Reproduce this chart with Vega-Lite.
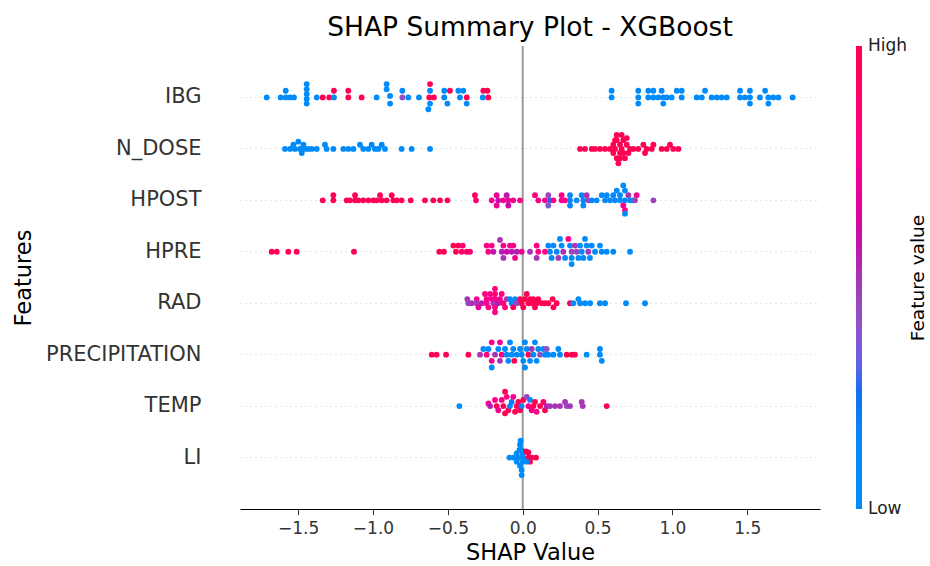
{
  "$schema": "https://vega.github.io/schema/vega-lite/v6.json",
  "autosize": {"type": "none"},
  "padding": {"left": 240, "top": 46, "right": 110, "bottom": 57},
  "width": 580,
  "height": 463,
  "background": "white",
  "config": {"view": {"stroke": null}, "font": "DejaVu Sans"},
  "title": {"text": "SHAP Summary Plot - XGBoost", "fontSize": 26.5, "fontWeight": "normal", "color": "#000", "frame": "group", "anchor": "middle", "offset": 4, "font": "DejaVu Sans"},
  "data": {"values": [
    {"f":"IBG","v":-1.710,"j":0,"c":0},{"f":"IBG","v":-1.617,"j":0,"c":0},{"f":"IBG","v":-1.583,"j":0.13,"c":0},{"f":"IBG","v":-1.583,"j":0,"c":0},{"f":"IBG","v":-1.554,"j":0,"c":0},{"f":"IBG","v":-1.528,"j":0,"c":0},
    {"f":"IBG","v":-1.443,"j":0.26,"c":0},{"f":"IBG","v":-1.443,"j":0.16,"c":0},{"f":"IBG","v":-1.443,"j":0.065,"c":0},{"f":"IBG","v":-1.443,"j":-0.03,"c":0},{"f":"IBG","v":-1.443,"j":-0.12,"c":0},
    {"f":"IBG","v":-1.376,"j":0,"c":0},{"f":"IBG","v":-1.336,"j":0,"c":1},{"f":"IBG","v":-1.292,"j":0,"c":1},{"f":"IBG","v":-1.261,"j":0.13,"c":1},{"f":"IBG","v":-1.261,"j":0,"c":0},
    {"f":"IBG","v":-1.165,"j":0.13,"c":1},{"f":"IBG","v":-1.165,"j":0,"c":1},{"f":"IBG","v":-1.076,"j":0,"c":1},{"f":"IBG","v":-0.976,"j":0,"c":0},
    {"f":"IBG","v":-0.909,"j":0.26,"c":0},{"f":"IBG","v":-0.909,"j":0.16,"c":0},{"f":"IBG","v":-0.886,"j":0.03,"c":0},{"f":"IBG","v":-0.886,"j":-0.12,"c":0},
    {"f":"IBG","v":-0.804,"j":0.13,"c":0},{"f":"IBG","v":-0.804,"j":0,"c":0.4},{"f":"IBG","v":-0.764,"j":0,"c":0},{"f":"IBG","v":-0.693,"j":0,"c":0},
    {"f":"IBG","v":-0.619,"j":0.26,"c":1},{"f":"IBG","v":-0.619,"j":0.13,"c":0},{"f":"IBG","v":-0.624,"j":0,"c":1},{"f":"IBG","v":-0.593,"j":0,"c":1},{"f":"IBG","v":-0.619,"j":-0.12,"c":0},{"f":"IBG","v":-0.630,"j":-0.23,"c":0},
    {"f":"IBG","v":-0.524,"j":0.13,"c":0},{"f":"IBG","v":-0.524,"j":0,"c":0},{"f":"IBG","v":-0.503,"j":-0.12,"c":0},{"f":"IBG","v":-0.486,"j":0.13,"c":1},
    {"f":"IBG","v":-0.430,"j":0.13,"c":0},{"f":"IBG","v":-0.397,"j":0.13,"c":0},{"f":"IBG","v":-0.419,"j":0,"c":0},{"f":"IBG","v":-0.374,"j":0,"c":1},{"f":"IBG","v":-0.374,"j":-0.12,"c":0},
    {"f":"IBG","v":-0.263,"j":0.13,"c":1},{"f":"IBG","v":-0.236,"j":0.13,"c":1},{"f":"IBG","v":-0.267,"j":0,"c":0},{"f":"IBG","v":-0.230,"j":0,"c":1},
    {"f":"IBG","v":0.594,"j":0.13,"c":0},{"f":"IBG","v":0.594,"j":0,"c":0},{"f":"IBG","v":0.772,"j":0.13,"c":0},{"f":"IBG","v":0.772,"j":0,"c":0},{"f":"IBG","v":0.772,"j":-0.12,"c":0},
    {"f":"IBG","v":0.839,"j":0.13,"c":0},{"f":"IBG","v":0.839,"j":0,"c":0},{"f":"IBG","v":0.873,"j":0.13,"c":0},{"f":"IBG","v":0.873,"j":0,"c":0},{"f":"IBG","v":0.906,"j":0,"c":0},
    {"f":"IBG","v":0.928,"j":0.13,"c":0},{"f":"IBG","v":0.939,"j":0,"c":0},{"f":"IBG","v":0.939,"j":-0.12,"c":0},{"f":"IBG","v":0.962,"j":0,"c":0},{"f":"IBG","v":0.995,"j":0,"c":0},
    {"f":"IBG","v":1.029,"j":0.13,"c":0},{"f":"IBG","v":1.062,"j":0.13,"c":0},{"f":"IBG","v":1.062,"j":0,"c":0},{"f":"IBG","v":1.162,"j":0,"c":0},{"f":"IBG","v":1.196,"j":0,"c":0},
    {"f":"IBG","v":1.218,"j":0.13,"c":0},{"f":"IBG","v":1.262,"j":0,"c":0},{"f":"IBG","v":1.296,"j":0,"c":0},{"f":"IBG","v":1.329,"j":0,"c":0},{"f":"IBG","v":1.363,"j":0,"c":0},
    {"f":"IBG","v":1.452,"j":0.13,"c":0},{"f":"IBG","v":1.452,"j":0,"c":0},{"f":"IBG","v":1.485,"j":0,"c":0},{"f":"IBG","v":1.518,"j":0.13,"c":0},{"f":"IBG","v":1.518,"j":0,"c":0},
    {"f":"IBG","v":1.518,"j":-0.12,"c":0},{"f":"IBG","v":1.585,"j":0,"c":0},{"f":"IBG","v":1.619,"j":0.13,"c":0},{"f":"IBG","v":1.641,"j":0,"c":0},{"f":"IBG","v":1.641,"j":-0.12,"c":0},
    {"f":"IBG","v":1.674,"j":0,"c":0},{"f":"IBG","v":1.708,"j":0,"c":0},{"f":"IBG","v":1.803,"j":0,"c":0},

    {"f":"N_DOSE","v":-1.588,"j":0,"c":0},{"f":"N_DOSE","v":-1.554,"j":0,"c":0},{"f":"N_DOSE","v":-1.532,"j":0.08,"c":0},{"f":"N_DOSE","v":-1.521,"j":0,"c":0},{"f":"N_DOSE","v":-1.499,"j":0.14,"c":0},
    {"f":"N_DOSE","v":-1.488,"j":0,"c":0},{"f":"N_DOSE","v":-1.476,"j":-0.08,"c":0},{"f":"N_DOSE","v":-1.465,"j":0.08,"c":0},{"f":"N_DOSE","v":-1.454,"j":0,"c":0},{"f":"N_DOSE","v":-1.432,"j":0,"c":0},
    {"f":"N_DOSE","v":-1.410,"j":0,"c":0},{"f":"N_DOSE","v":-1.376,"j":0,"c":0},{"f":"N_DOSE","v":-1.321,"j":0.08,"c":0},{"f":"N_DOSE","v":-1.310,"j":0,"c":0},{"f":"N_DOSE","v":-1.265,"j":0,"c":0},
    {"f":"N_DOSE","v":-1.198,"j":0,"c":0},{"f":"N_DOSE","v":-1.165,"j":0,"c":0},{"f":"N_DOSE","v":-1.131,"j":0,"c":0},{"f":"N_DOSE","v":-1.087,"j":0.08,"c":0},{"f":"N_DOSE","v":-1.065,"j":0,"c":0},
    {"f":"N_DOSE","v":-1.031,"j":0,"c":0},{"f":"N_DOSE","v":-1.009,"j":0.08,"c":0},{"f":"N_DOSE","v":-0.987,"j":0,"c":0},{"f":"N_DOSE","v":-0.964,"j":0,"c":0},{"f":"N_DOSE","v":-0.942,"j":0.08,"c":0},
    {"f":"N_DOSE","v":-0.920,"j":0,"c":0},{"f":"N_DOSE","v":-0.809,"j":0,"c":0},{"f":"N_DOSE","v":-0.742,"j":0,"c":0},{"f":"N_DOSE","v":-0.619,"j":0,"c":0},
    {"f":"N_DOSE","v":0.383,"j":0,"c":1},{"f":"N_DOSE","v":0.416,"j":0,"c":1},{"f":"N_DOSE","v":0.461,"j":0,"c":1},{"f":"N_DOSE","v":0.483,"j":0,"c":1},{"f":"N_DOSE","v":0.516,"j":0,"c":1},
    {"f":"N_DOSE","v":0.550,"j":0,"c":1},{"f":"N_DOSE","v":0.583,"j":0,"c":1},{"f":"N_DOSE","v":0.605,"j":0.08,"c":1},{"f":"N_DOSE","v":0.605,"j":-0.08,"c":1},{"f":"N_DOSE","v":0.617,"j":0,"c":1},
    {"f":"N_DOSE","v":0.617,"j":0.17,"c":1},{"f":"N_DOSE","v":0.628,"j":0.27,"c":1},{"f":"N_DOSE","v":0.628,"j":0.17,"c":1},{"f":"N_DOSE","v":0.628,"j":-0.18,"c":1},{"f":"N_DOSE","v":0.639,"j":-0.28,"c":1},
    {"f":"N_DOSE","v":0.650,"j":0.08,"c":1},{"f":"N_DOSE","v":0.650,"j":-0.08,"c":1},{"f":"N_DOSE","v":0.650,"j":-0.18,"c":1},{"f":"N_DOSE","v":0.661,"j":0,"c":1},{"f":"N_DOSE","v":0.661,"j":0.27,"c":1},
    {"f":"N_DOSE","v":0.672,"j":0.17,"c":1},{"f":"N_DOSE","v":0.672,"j":-0.08,"c":1},{"f":"N_DOSE","v":0.683,"j":-0.18,"c":1},{"f":"N_DOSE","v":0.695,"j":0.21,"c":1},{"f":"N_DOSE","v":0.695,"j":0.08,"c":1},
    {"f":"N_DOSE","v":0.706,"j":-0.08,"c":1},{"f":"N_DOSE","v":0.717,"j":0,"c":1},{"f":"N_DOSE","v":0.739,"j":0,"c":1},{"f":"N_DOSE","v":0.772,"j":0,"c":1},{"f":"N_DOSE","v":0.806,"j":0.08,"c":1},
    {"f":"N_DOSE","v":0.817,"j":-0.08,"c":1},{"f":"N_DOSE","v":0.828,"j":0,"c":1},{"f":"N_DOSE","v":0.862,"j":0,"c":1},{"f":"N_DOSE","v":0.873,"j":0.08,"c":1},{"f":"N_DOSE","v":0.928,"j":0,"c":1},
    {"f":"N_DOSE","v":0.962,"j":0,"c":1},{"f":"N_DOSE","v":0.984,"j":0.08,"c":1},{"f":"N_DOSE","v":1.006,"j":0,"c":1},{"f":"N_DOSE","v":1.040,"j":0,"c":1},

    {"f":"HPOST","v":-1.336,"j":0,"c":1},{"f":"HPOST","v":-1.265,"j":0.1,"c":1},{"f":"HPOST","v":-1.265,"j":0,"c":1},{"f":"HPOST","v":-1.176,"j":0,"c":1},{"f":"HPOST","v":-1.154,"j":0,"c":1},
    {"f":"HPOST","v":-1.120,"j":0.1,"c":1},{"f":"HPOST","v":-1.120,"j":0,"c":1},{"f":"HPOST","v":-1.098,"j":0,"c":1},{"f":"HPOST","v":-1.065,"j":0,"c":1},{"f":"HPOST","v":-1.031,"j":0,"c":1},
    {"f":"HPOST","v":-0.998,"j":0,"c":1},{"f":"HPOST","v":-0.976,"j":0,"c":1},{"f":"HPOST","v":-0.953,"j":0.1,"c":1},{"f":"HPOST","v":-0.942,"j":0,"c":1},{"f":"HPOST","v":-0.909,"j":0,"c":1},
    {"f":"HPOST","v":-0.875,"j":0.1,"c":1},{"f":"HPOST","v":-0.864,"j":0,"c":1},{"f":"HPOST","v":-0.842,"j":0,"c":1},{"f":"HPOST","v":-0.809,"j":0,"c":1},{"f":"HPOST","v":-0.748,"j":0,"c":1},
    {"f":"HPOST","v":-0.653,"j":0,"c":1},{"f":"HPOST","v":-0.597,"j":0,"c":1},{"f":"HPOST","v":-0.552,"j":0,"c":1},{"f":"HPOST","v":-0.503,"j":0,"c":1},
    {"f":"HPOST","v":-0.319,"j":0.1,"c":0.9},{"f":"HPOST","v":-0.312,"j":0,"c":0.85},{"f":"HPOST","v":-0.207,"j":0,"c":0.75},{"f":"HPOST","v":-0.174,"j":0.1,"c":0.7},{"f":"HPOST","v":-0.163,"j":0,"c":0.6},
    {"f":"HPOST","v":-0.174,"j":-0.1,"c":0.7},{"f":"HPOST","v":-0.129,"j":0,"c":0.75},{"f":"HPOST","v":-0.107,"j":0.1,"c":0.55},{"f":"HPOST","v":-0.096,"j":0,"c":0.7},{"f":"HPOST","v":-0.096,"j":-0.1,"c":0.6},
    {"f":"HPOST","v":-0.063,"j":0,"c":0.75},{"f":"HPOST","v":-0.018,"j":0,"c":0.75},
    {"f":"HPOST","v":0.082,"j":0.1,"c":0.8},{"f":"HPOST","v":0.104,"j":0,"c":0.8},{"f":"HPOST","v":0.149,"j":0,"c":0.75},{"f":"HPOST","v":0.171,"j":0.1,"c":0.45},{"f":"HPOST","v":0.182,"j":0,"c":0.25},
    {"f":"HPOST","v":0.171,"j":-0.1,"c":0.35},{"f":"HPOST","v":0.205,"j":0,"c":0.75},{"f":"HPOST","v":0.260,"j":0.1,"c":0.8},{"f":"HPOST","v":0.260,"j":0,"c":0.75},{"f":"HPOST","v":0.283,"j":0,"c":0.8},
    {"f":"HPOST","v":0.316,"j":0.1,"c":0.15},{"f":"HPOST","v":0.316,"j":0,"c":0.1},{"f":"HPOST","v":0.316,"j":-0.1,"c":0.1},{"f":"HPOST","v":0.360,"j":0,"c":0.1},{"f":"HPOST","v":0.394,"j":0.1,"c":0.1},
    {"f":"HPOST","v":0.405,"j":0,"c":0.15},{"f":"HPOST","v":0.405,"j":-0.1,"c":0.1},{"f":"HPOST","v":0.427,"j":0.1,"c":0.5},{"f":"HPOST","v":0.438,"j":0,"c":0.45},{"f":"HPOST","v":0.461,"j":0,"c":0.1},
    {"f":"HPOST","v":0.494,"j":0,"c":0.05},{"f":"HPOST","v":0.528,"j":0.1,"c":0.1},{"f":"HPOST","v":0.550,"j":0,"c":0.1},{"f":"HPOST","v":0.561,"j":0.1,"c":0.05},{"f":"HPOST","v":0.583,"j":0,"c":0.1},
    {"f":"HPOST","v":0.605,"j":0.1,"c":0.05},{"f":"HPOST","v":0.617,"j":0,"c":0.05},{"f":"HPOST","v":0.628,"j":0.19,"c":0},{"f":"HPOST","v":0.650,"j":0.1,"c":0},{"f":"HPOST","v":0.650,"j":0,"c":0},
    {"f":"HPOST","v":0.672,"j":0.29,"c":0},{"f":"HPOST","v":0.683,"j":0.19,"c":0},{"f":"HPOST","v":0.683,"j":0,"c":0},{"f":"HPOST","v":0.672,"j":-0.1,"c":0.75},{"f":"HPOST","v":0.683,"j":-0.19,"c":0.8},
    {"f":"HPOST","v":0.683,"j":-0.26,"c":0},{"f":"HPOST","v":0.706,"j":0.1,"c":0.5},{"f":"HPOST","v":0.717,"j":0,"c":0},{"f":"HPOST","v":0.739,"j":0,"c":0},{"f":"HPOST","v":0.761,"j":0.1,"c":0.75},
    {"f":"HPOST","v":0.750,"j":0,"c":0.45},{"f":"HPOST","v":0.873,"j":0,"c":0.45},

    {"f":"HPRE","v":-1.677,"j":0,"c":1},{"f":"HPRE","v":-1.643,"j":0,"c":1},{"f":"HPRE","v":-1.566,"j":0,"c":1},{"f":"HPRE","v":-1.510,"j":0,"c":1},{"f":"HPRE","v":-1.127,"j":0,"c":1},
    {"f":"HPRE","v":-0.557,"j":0,"c":1},{"f":"HPRE","v":-0.526,"j":0,"c":1},{"f":"HPRE","v":-0.463,"j":0.12,"c":1},{"f":"HPRE","v":-0.430,"j":0.12,"c":1},{"f":"HPRE","v":-0.446,"j":0,"c":1},
    {"f":"HPRE","v":-0.401,"j":0.12,"c":0.85},{"f":"HPRE","v":-0.408,"j":0,"c":0.85},{"f":"HPRE","v":-0.374,"j":0,"c":0.9},{"f":"HPRE","v":-0.352,"j":0,"c":0.85},
    {"f":"HPRE","v":-0.241,"j":0.12,"c":0.8},{"f":"HPRE","v":-0.207,"j":0.12,"c":0.8},{"f":"HPRE","v":-0.230,"j":0,"c":0.8},{"f":"HPRE","v":-0.196,"j":0,"c":0.55},{"f":"HPRE","v":-0.152,"j":0.23,"c":0.5},
    {"f":"HPRE","v":-0.129,"j":0.12,"c":0.75},{"f":"HPRE","v":-0.140,"j":0,"c":0.55},{"f":"HPRE","v":-0.129,"j":-0.12,"c":0.5},{"f":"HPRE","v":-0.107,"j":0,"c":0.6},{"f":"HPRE","v":-0.085,"j":0.12,"c":0.75},
    {"f":"HPRE","v":-0.063,"j":0.12,"c":0.8},{"f":"HPRE","v":-0.074,"j":0,"c":0.55},{"f":"HPRE","v":-0.051,"j":-0.12,"c":0.75},{"f":"HPRE","v":-0.040,"j":0,"c":0.55},
    {"f":"HPRE","v":-0.007,"j":0,"c":0.75},{"f":"HPRE","v":0.049,"j":0,"c":0.5},{"f":"HPRE","v":0.093,"j":0.12,"c":0.8},{"f":"HPRE","v":0.104,"j":0,"c":0.8},{"f":"HPRE","v":0.093,"j":-0.12,"c":0.5},
    {"f":"HPRE","v":0.149,"j":0,"c":0.8},{"f":"HPRE","v":0.171,"j":0.12,"c":0.1},{"f":"HPRE","v":0.182,"j":0,"c":0.1},{"f":"HPRE","v":0.193,"j":-0.12,"c":0.1},{"f":"HPRE","v":0.205,"j":0.12,"c":0.1},
    {"f":"HPRE","v":0.227,"j":0,"c":0.1},{"f":"HPRE","v":0.238,"j":-0.12,"c":0.5},{"f":"HPRE","v":0.249,"j":0.25,"c":0},{"f":"HPRE","v":0.260,"j":0.12,"c":0},{"f":"HPRE","v":0.271,"j":0,"c":0.5},
    {"f":"HPRE","v":0.283,"j":-0.12,"c":0},{"f":"HPRE","v":0.305,"j":0.25,"c":0.8},{"f":"HPRE","v":0.316,"j":0.12,"c":0},{"f":"HPRE","v":0.327,"j":0,"c":0.45},{"f":"HPRE","v":0.327,"j":-0.12,"c":0},
    {"f":"HPRE","v":0.327,"j":-0.24,"c":0},{"f":"HPRE","v":0.349,"j":0.12,"c":0.5},{"f":"HPRE","v":0.360,"j":0,"c":0.45},{"f":"HPRE","v":0.372,"j":-0.12,"c":0},{"f":"HPRE","v":0.383,"j":0.12,"c":0},
    {"f":"HPRE","v":0.394,"j":0,"c":0},{"f":"HPRE","v":0.405,"j":-0.12,"c":0},{"f":"HPRE","v":0.416,"j":0.25,"c":0},{"f":"HPRE","v":0.427,"j":0.12,"c":0},{"f":"HPRE","v":0.438,"j":0,"c":0.5},
    {"f":"HPRE","v":0.449,"j":-0.12,"c":0},{"f":"HPRE","v":0.461,"j":0.12,"c":0},{"f":"HPRE","v":0.483,"j":0,"c":0},{"f":"HPRE","v":0.516,"j":0.12,"c":0},{"f":"HPRE","v":0.528,"j":0,"c":0},
    {"f":"HPRE","v":0.561,"j":0,"c":0},{"f":"HPRE","v":0.605,"j":0,"c":0},{"f":"HPRE","v":0.717,"j":0,"c":0},

    {"f":"RAD","v":-0.370,"j":0.08,"c":0.5},{"f":"RAD","v":-0.363,"j":0,"c":0.45},{"f":"RAD","v":-0.341,"j":0,"c":0.5},{"f":"RAD","v":-0.307,"j":0.08,"c":0.75},{"f":"RAD","v":-0.307,"j":0,"c":0.5},
    {"f":"RAD","v":-0.296,"j":-0.08,"c":0.7},{"f":"RAD","v":-0.274,"j":0,"c":0.55},{"f":"RAD","v":-0.252,"j":0.18,"c":0.8},{"f":"RAD","v":-0.241,"j":0.08,"c":0.8},{"f":"RAD","v":-0.241,"j":0,"c":0.75},
    {"f":"RAD","v":-0.229,"j":-0.08,"c":0.8},{"f":"RAD","v":-0.218,"j":0.18,"c":0.8},{"f":"RAD","v":-0.207,"j":0.08,"c":0.75},{"f":"RAD","v":-0.196,"j":0,"c":0.5},{"f":"RAD","v":-0.185,"j":0.28,"c":0.8},
    {"f":"RAD","v":-0.185,"j":0.18,"c":0.85},{"f":"RAD","v":-0.185,"j":0.08,"c":0.75},{"f":"RAD","v":-0.185,"j":-0.08,"c":0.8},{"f":"RAD","v":-0.185,"j":-0.175,"c":0.8},{"f":"RAD","v":-0.163,"j":0,"c":0.55},
    {"f":"RAD","v":-0.152,"j":0.08,"c":0.75},{"f":"RAD","v":-0.140,"j":0.18,"c":0.8},{"f":"RAD","v":-0.129,"j":0,"c":0.8},{"f":"RAD","v":-0.118,"j":-0.08,"c":0.8},{"f":"RAD","v":-0.107,"j":0.08,"c":0.5},
    {"f":"RAD","v":-0.085,"j":0.08,"c":0.1},{"f":"RAD","v":-0.074,"j":0,"c":0.1},{"f":"RAD","v":-0.063,"j":-0.08,"c":1},{"f":"RAD","v":-0.051,"j":0.08,"c":0.15},{"f":"RAD","v":-0.040,"j":0,"c":0.45},
    {"f":"RAD","v":-0.018,"j":0.08,"c":1},{"f":"RAD","v":-0.007,"j":0,"c":1},{"f":"RAD","v":0.004,"j":-0.08,"c":1},{"f":"RAD","v":0.015,"j":0.08,"c":1},{"f":"RAD","v":0.027,"j":0.18,"c":1},
    {"f":"RAD","v":0.038,"j":0,"c":1},{"f":"RAD","v":0.049,"j":0.08,"c":1},{"f":"RAD","v":0.060,"j":0,"c":0.95},{"f":"RAD","v":0.071,"j":0.08,"c":1},{"f":"RAD","v":0.082,"j":-0.08,"c":1},
    {"f":"RAD","v":0.093,"j":0,"c":1},{"f":"RAD","v":0.104,"j":0.08,"c":1},{"f":"RAD","v":0.127,"j":0,"c":1},{"f":"RAD","v":0.149,"j":0,"c":1},{"f":"RAD","v":0.171,"j":0,"c":1},
    {"f":"RAD","v":0.200,"j":0.08,"c":1},{"f":"RAD","v":0.205,"j":-0.08,"c":1},{"f":"RAD","v":0.227,"j":0,"c":1},{"f":"RAD","v":0.316,"j":0,"c":1},{"f":"RAD","v":0.338,"j":0,"c":0.1},
    {"f":"RAD","v":0.372,"j":0.08,"c":0},{"f":"RAD","v":0.383,"j":0,"c":0},{"f":"RAD","v":0.416,"j":0,"c":0},{"f":"RAD","v":0.450,"j":0,"c":0},{"f":"RAD","v":0.516,"j":0,"c":0},
    {"f":"RAD","v":0.550,"j":0,"c":0},{"f":"RAD","v":0.690,"j":0,"c":0},{"f":"RAD","v":0.817,"j":0,"c":0},

    {"f":"PRECIPITATION","v":-0.608,"j":0,"c":1},{"f":"PRECIPITATION","v":-0.575,"j":0,"c":1},{"f":"PRECIPITATION","v":-0.512,"j":0,"c":1},{"f":"PRECIPITATION","v":-0.363,"j":0,"c":1},
    {"f":"PRECIPITATION","v":-0.285,"j":0,"c":0.5},{"f":"PRECIPITATION","v":-0.263,"j":0.11,"c":0},{"f":"PRECIPITATION","v":-0.241,"j":0,"c":0.8},{"f":"PRECIPITATION","v":-0.229,"j":0.11,"c":0},
    {"f":"PRECIPITATION","v":-0.207,"j":0.24,"c":0.75},{"f":"PRECIPITATION","v":-0.207,"j":-0.12,"c":0.75},{"f":"PRECIPITATION","v":-0.207,"j":-0.25,"c":0},{"f":"PRECIPITATION","v":-0.185,"j":0,"c":0.5},
    {"f":"PRECIPITATION","v":-0.163,"j":0.11,"c":0},{"f":"PRECIPITATION","v":-0.152,"j":0.24,"c":0.75},{"f":"PRECIPITATION","v":-0.152,"j":-0.12,"c":0.5},{"f":"PRECIPITATION","v":-0.140,"j":0,"c":0.8},
    {"f":"PRECIPITATION","v":-0.118,"j":0.11,"c":0},{"f":"PRECIPITATION","v":-0.107,"j":0,"c":0},{"f":"PRECIPITATION","v":-0.096,"j":-0.12,"c":0},{"f":"PRECIPITATION","v":-0.085,"j":0.24,"c":0},
    {"f":"PRECIPITATION","v":-0.074,"j":0,"c":0},{"f":"PRECIPITATION","v":-0.063,"j":0.11,"c":0},{"f":"PRECIPITATION","v":-0.056,"j":-0.12,"c":1},{"f":"PRECIPITATION","v":-0.040,"j":0,"c":0},
    {"f":"PRECIPITATION","v":-0.018,"j":0.11,"c":0},{"f":"PRECIPITATION","v":-0.007,"j":0,"c":0},{"f":"PRECIPITATION","v":0.004,"j":-0.12,"c":0},{"f":"PRECIPITATION","v":0.015,"j":0.24,"c":0},
    {"f":"PRECIPITATION","v":0.015,"j":-0.25,"c":0},{"f":"PRECIPITATION","v":0.027,"j":0.11,"c":0},{"f":"PRECIPITATION","v":0.038,"j":0,"c":1},{"f":"PRECIPITATION","v":0.049,"j":-0.12,"c":0},
    {"f":"PRECIPITATION","v":0.060,"j":0.11,"c":0.5},{"f":"PRECIPITATION","v":0.071,"j":0,"c":0},{"f":"PRECIPITATION","v":0.082,"j":0.24,"c":0},{"f":"PRECIPITATION","v":0.093,"j":-0.12,"c":0},
    {"f":"PRECIPITATION","v":0.104,"j":0.11,"c":0},{"f":"PRECIPITATION","v":0.116,"j":0,"c":0.45},{"f":"PRECIPITATION","v":0.138,"j":0.11,"c":0},{"f":"PRECIPITATION","v":0.149,"j":0,"c":0},
    {"f":"PRECIPITATION","v":0.160,"j":0.11,"c":0.4},{"f":"PRECIPITATION","v":0.171,"j":0,"c":0},{"f":"PRECIPITATION","v":0.205,"j":0,"c":0},{"f":"PRECIPITATION","v":0.238,"j":0.11,"c":0},
    {"f":"PRECIPITATION","v":0.249,"j":0,"c":0},{"f":"PRECIPITATION","v":0.294,"j":0,"c":1},{"f":"PRECIPITATION","v":0.327,"j":0,"c":1},{"f":"PRECIPITATION","v":0.349,"j":0,"c":1},
    {"f":"PRECIPITATION","v":0.427,"j":0,"c":0},{"f":"PRECIPITATION","v":0.516,"j":0.11,"c":0},{"f":"PRECIPITATION","v":0.516,"j":0,"c":0},{"f":"PRECIPITATION","v":0.528,"j":-0.12,"c":0},

    {"f":"TEMP","v":-0.423,"j":0,"c":0},{"f":"TEMP","v":-0.229,"j":0.05,"c":0.75},{"f":"TEMP","v":-0.218,"j":0,"c":0.55},{"f":"TEMP","v":-0.185,"j":0.12,"c":0.8},{"f":"TEMP","v":-0.174,"j":0,"c":1},
    {"f":"TEMP","v":-0.163,"j":-0.08,"c":0.75},{"f":"TEMP","v":-0.140,"j":0.12,"c":0.75},{"f":"TEMP","v":-0.129,"j":0,"c":1},{"f":"TEMP","v":-0.118,"j":0.28,"c":1},{"f":"TEMP","v":-0.118,"j":-0.14,"c":1},
    {"f":"TEMP","v":-0.107,"j":0.18,"c":0.8},{"f":"TEMP","v":-0.096,"j":-0.08,"c":1},{"f":"TEMP","v":-0.085,"j":0,"c":0.15},{"f":"TEMP","v":-0.074,"j":0.08,"c":0.2},{"f":"TEMP","v":-0.063,"j":0.18,"c":0.75},
    {"f":"TEMP","v":-0.051,"j":-0.11,"c":1},{"f":"TEMP","v":-0.040,"j":0,"c":1},{"f":"TEMP","v":-0.029,"j":0.08,"c":1},{"f":"TEMP","v":-0.018,"j":-0.08,"c":1},{"f":"TEMP","v":-0.007,"j":0,"c":0.15},
    {"f":"TEMP","v":0.004,"j":0.12,"c":1},{"f":"TEMP","v":0.027,"j":0.18,"c":0.45},{"f":"TEMP","v":0.038,"j":0,"c":0.8},{"f":"TEMP","v":0.049,"j":0.12,"c":0.15},{"f":"TEMP","v":0.060,"j":-0.08,"c":0.75},
    {"f":"TEMP","v":0.071,"j":0,"c":1},{"f":"TEMP","v":0.082,"j":0.08,"c":1},{"f":"TEMP","v":0.093,"j":-0.11,"c":0.8},{"f":"TEMP","v":0.116,"j":0,"c":1},{"f":"TEMP","v":0.138,"j":0.08,"c":0.9},
    {"f":"TEMP","v":0.149,"j":-0.08,"c":1},{"f":"TEMP","v":0.160,"j":0,"c":0.55},{"f":"TEMP","v":0.182,"j":0,"c":0.5},{"f":"TEMP","v":0.216,"j":0,"c":0.5},{"f":"TEMP","v":0.249,"j":0,"c":0.5},
    {"f":"TEMP","v":0.283,"j":0.08,"c":0.5},{"f":"TEMP","v":0.294,"j":0,"c":0.45},{"f":"TEMP","v":0.316,"j":0,"c":0.5},{"f":"TEMP","v":0.394,"j":0.08,"c":0.5},{"f":"TEMP","v":0.401,"j":0,"c":0.5},
    {"f":"TEMP","v":0.561,"j":0,"c":1},

    {"f":"LI","v":-0.089,"j":0,"c":0},{"f":"LI","v":-0.063,"j":0,"c":0},{"f":"LI","v":-0.040,"j":0.08,"c":0},{"f":"LI","v":-0.040,"j":-0.08,"c":0},{"f":"LI","v":-0.029,"j":0,"c":0},
    {"f":"LI","v":-0.022,"j":0.15,"c":0},{"f":"LI","v":-0.018,"j":0.25,"c":0},{"f":"LI","v":-0.014,"j":0.33,"c":0},{"f":"LI","v":-0.018,"j":-0.16,"c":0},{"f":"LI","v":-0.007,"j":-0.24,"c":0},
    {"f":"LI","v":-0.007,"j":-0.34,"c":0},{"f":"LI","v":0.000,"j":0.07,"c":0},{"f":"LI","v":0.000,"j":-0.08,"c":0},{"f":"LI","v":0.004,"j":0,"c":0},{"f":"LI","v":-0.007,"j":0.15,"c":0},
    {"f":"LI","v":0.022,"j":0.12,"c":1},{"f":"LI","v":0.038,"j":0,"c":1},{"f":"LI","v":0.060,"j":0,"c":1},{"f":"LI","v":0.089,"j":0,"c":1},{"f":"LI","v":0.049,"j":-0.08,"c":1},
    {"f":"LI","v":0.038,"j":0.1,"c":1},{"f":"LI","v":0.027,"j":-0.08,"c":0}
  ]},
  "resolve": {"scale": {"y": "independent"}, "axis": {"y": "independent"}},
  "layer": [
    {
      "data": {"values": [{}]},
      "mark": {"type": "rule", "color": "#999999", "strokeWidth": 2},
      "encoding": {"x": {"datum": 0}}
    },
    {
      "mark": {"type": "circle", "size": 34, "opacity": 1, "strokeWidth": 0},
      "encoding": {
        "x": {
          "field": "v", "type": "quantitative",
          "scale": {"domain": [-1.8885, 1.9859], "nice": false, "zero": false},
          "axis": {
            "title": "SHAP Value", "values": [-1.5, -1, -0.5, 0, 0.5, 1, 1.5], "format": ".1f",
            "labelExpr": "replace(datum.label, '-', '−')",
            "grid": false, "domainColor": "#000000", "domainWidth": 1,
            "tickColor": "#333333", "tickSize": 5.7, "tickWidth": 1,
            "labelColor": "#333333", "labelFontSize": 17, "labelPadding": 6, "labelFont": "DejaVu Sans",
            "titleFontSize": 22.5, "titleFontWeight": "normal", "titleColor": "#000000", "titlePadding": 5, "titleFont": "DejaVu Sans"
          }
        },
        "y": {
          "field": "f", "type": "nominal",
          "scale": {"domain": ["IBG", "N_DOSE", "HPOST", "HPRE", "RAD", "PRECIPITATION", "TEMP", "LI"], "paddingInner": 0, "paddingOuter": 0.5},
          "axis": {
            "title": "Features", "orient": "left", "domain": false, "ticks": false, "tickSize": 0, "bandPosition": 0.5,
            "grid": true, "gridColor": "#cccccc", "gridDash": [1, 4], "gridWidth": 1,
            "labelColor": "#333333", "labelFontSize": 21, "labelPadding": 39, "labelFont": "DejaVu Sans",
            "titleFontSize": 22.5, "titleFontWeight": "normal", "titleColor": "#000000", "titlePadding": 10, "titleFont": "DejaVu Sans"
          }
        },
        "yOffset": {"field": "j", "type": "quantitative", "scale": {"domain": [0.5, -0.5], "nice": false, "zero": false}},
        "color": {
          "field": "c", "type": "quantitative",
          "scale": {
            "type": "linear",
            "domain": [0, 0.15, 0.25, 0.32, 0.40, 0.48, 0.57, 0.65, 0.78, 0.92, 1],
            "range": ["#008bfb", "#0a86fa", "#1070f0", "#7060e0", "#9050c8", "#a040b8", "#c010b0", "#e000a0", "#ff0088", "#ff0060", "#ff0052"],
            "interpolate": "rgb"
          },
          "legend": {
            "title": null, "values": [0.001, 0.999],
            "labelExpr": "datum.value > 0.5 ? 'High' : 'Low'",
            "direction": "vertical", "orient": "none", "legendX": 616, "legendY": 0,
            "gradientLength": 463, "gradientThickness": 6, "gradientStrokeWidth": 0,
            "labelFontSize": 17, "labelColor": "#222222", "labelOffset": 6, "labelFont": "DejaVu Sans",
            "labelBaseline": "middle",
            "padding": 0
          }
        }
      }
    },
    {
      "data": {"values": [{}]},
      "mark": {"type": "rule", "opacity": 0},
      "encoding": {
        "y": {
          "datum": 0, "type": "quantitative",
          "axis": {
            "orient": "right", "title": "Feature value", "domain": false, "ticks": false, "tickSize": 0, "labels": false, "grid": false,
            "offset": 0, "titlePadding": 88, "titleAngle": 270, "titleBaseline": "top",
            "titleFontSize": 18.5, "titleFontWeight": "normal", "titleColor": "#000000", "titleFont": "DejaVu Sans"
          }
        }
      }
    }
  ]
}
